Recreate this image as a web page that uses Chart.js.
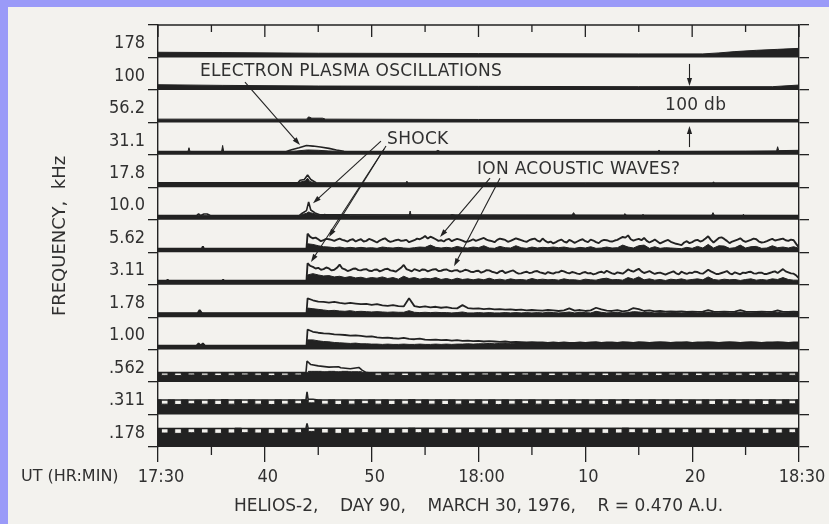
<!DOCTYPE html>
<html>
<head>
<meta charset="utf-8">
<title>Helios-2 wave channels, 30 March 1976</title>
<script src="https://cdn.jsdelivr.net/npm/chart.js@4.4.1/dist/chart.umd.min.js"></script>
<style>
    html, body { margin: 0; padding: 0; background: #9a9af8; }
    #sheet { position: absolute; left: 8px; top: 7px; width: 821px; height: 517px; background: #f3f2ee; }
    canvas { display: block; }
</style>
</head>
<body>
<div id="sheet"><canvas id="wavesChart" width="821" height="517"></canvas></div>
<script>
const INK = '#222222';
const TEXT = '#303030';
const NUM_FONT = "'DejaVu Sans Condensed', 'DejaVu Sans', sans-serif";
const TXT_FONT = "'DejaVu Sans', sans-serif";

// channel centre frequencies, top to bottom (kHz)
const channelLabels = ['178', '100', '56.2', '31.1', '17.8', '10.0', '5.62', '3.11', '1.78', '1.00', '.562', '.311', '.178'];
// UT labels every 10 minutes from 17:30
const timeLabels = ['17:30', '40', '50', '18:00', '10', '20', '18:30'];

// Quiet channels: [minutes after 17:30, dB above channel base]
const avg178 = [[0,16],[6,15],[15,13],[30,12],[45,11],[51,11],[52.5,14],[54,18],[56,22],[58,25],[60,28]];
const avg100 = [[0,16],[6,14],[15,12],[30,11],[45,10],[57.5,10],[58.5,12],[60,15]];
const avg56 = [[0,10],[13.9,10],[14.1,17],[14.4,13],[15.4,13],[15.7,10],[30,9],[60,9]];
const avg31 = [[0,10],[2.8,10],[2.9,22],[3.0,10],[5.95,10],[6.05,29],[6.15,10],[12,10],[13,12],[14,15],[15,14],
    [16,12],[17,11],[18,10],[26,10],[26.2,14],[26.4,10],[46.8,10],[46.9,15],[47,10],[55,11],[57.9,12],[58,25],[58.1,13],[60,14]];
const peak31 = [[0,10],[12,10],[12.5,16],[13.2,22],[13.9,29],[14.5,27],[15.2,24],[16,20],[16.7,15],[17.4,11],[18,10],[60,10]];
const avg17 = [[0,14],[8,13],[13.1,13],[13.4,17],[13.8,20],[14.0,28],[14.2,18],[14.7,13],[23.2,12],[23.3,19],[23.4,12],
    [40,12],[51.9,12],[52,17],[52.1,12],[60,12]];
const peak17 = [[0,14],[13.1,14],[13.3,22],[13.7,24],[14.0,38],[14.3,24],[14.8,14],[60,13]];
const avg10 = [[0,13],[13.2,12],[13.5,16],[13.9,20],[14.1,24],[14.25,22],[14.7,18],[15.2,13],[15.6,17],[16.2,13],[17.6,16],
    [18,12],[23.5,12],[23.6,27],[23.7,12],[27.3,12],[27.5,16],[28,12],[38.7,12],[38.9,22],[39.1,12],[43.6,12],[43.7,19],
    [43.9,12],[45.3,12],[45.4,17],[45.5,12],[51.8,12],[51.95,22],[52.1,12],[54.7,12],[54.8,17],[54.9,12],[60,12]];
const peak10 = [[0,13],[3.6,13],[3.8,18],[4.0,13],[4.3,18],[4.6,18],[4.9,13],[13.2,13],[13.5,20],[13.9,28],[14.1,55],
    [14.3,30],[14.7,21],[15.2,15],[60,13]];

// Disturbed channels: quiet part as pairs, then regular samples from 14.0 to 60.0
// peak5 / peak3 every 0.25 min, all the others every 0.5 min
const pre5 = [[0,11],[4.1,11],[4.2,18],[4.3,11],[13.9,11]];
const peak5 = [57,47,43,45,40,34,37,41,40,38,35,39,42,38,36,33,38,40,33,37,
    40,33,35,41,38,34,30,36,40,43,36,32,34,37,39,35,36,38,31,34,
    37,42,40,44,50,42,48,44,40,35,37,33,39,41,34,38,41,39,36,32,
    33,36,40,35,38,41,44,39,36,34,31,38,42,40,38,32,35,39,43,40,
    37,34,32,37,40,42,36,33,42,35,30,33,27,31,36,39,33,30,38,34,
    29,33,37,40,34,31,39,36,31,28,35,38,37,34,33,36,38,43,47,45,
    52,40,36,39,41,37,44,35,30,34,39,33,27,31,35,38,32,29,26,24,
    22,30,34,28,31,36,38,33,36,42,49,38,30,37,44,46,41,35,28,33,
    36,39,43,36,32,35,38,42,40,33,30,31,34,38,41,36,38,40,42,37,
    35,39,37,25,14];
const avg5 = [26,24,20,17,16,14,16,13,15,13, 15,13,14,12,16,14,13,15,13,12, 14,16,15,22,15,13,15,13,18,14,
    13,16,14,20,13,12,18,14,13,20, 14,12,16,13,15,14,16,14,16,13, 12,15,13,17,12,13,16,13,14,22,
    16,13,20,22,12,17,12,14,13,12, 11,15,12,18,13,24,13,20,19,12, 14,22,13,17,18,12,13,20,14,16, 13,17,12];

const pre3 = [[0,12],[0.8,12],[0.9,16],[1.0,12],[6.0,12],[6.1,15],[6.2,12],[13.9,12]];
const peak3 = [66,58,55,50,52,46,48,53,50,44,46,52,62,50,47,42,45,49,50,45,
    44,47,48,43,42,46,47,41,44,48,49,44,43,40,46,52,61,48,45,41,
    48,45,42,47,46,41,44,47,48,42,43,46,47,43,41,44,45,40,42,46,
    44,40,39,42,43,37,40,45,44,40,38,35,41,43,36,39,42,44,38,34,
    35,38,40,36,37,41,42,38,36,33,39,36,34,38,38,43,41,37,35,39,
    37,34,33,37,39,35,36,32,34,38,40,36,43,39,35,33,38,36,34,40,
    47,43,40,45,49,41,36,39,42,37,33,36,37,34,31,35,38,41,35,32,
    40,36,33,37,36,40,39,35,34,40,46,41,37,33,33,36,39,42,35,32,
    38,35,32,37,36,39,40,35,34,37,37,33,33,36,39,41,36,42,48,41,
    38,35,34,28,20];
const avg3 = [30,34,30,27,28,24,26,22,25,21, 23,19,22,20,24,19,22,17,26,19, 22,17,20,18,22,16,19,15,20,16,
    18,15,18,15,20,15,17,14,18,15, 16,14,19,15,17,15,16,14,18,15, 15,13,17,15,14,18,20,15,16,14,
    22,17,24,15,18,14,16,13,17,15, 18,14,16,18,15,24,16,14,17,15, 16,13,16,18,14,16,14,18,16,22, 16,14,14];

const pre1_78 = [[0,12],[3.7,12],[3.9,22],[4.1,13],[4.3,12],[13.9,12]];
const peak1_78 = [58,52,48,47,45,47,44,42,44,42, 40,41,38,40,36,35,37,34,33,58, 34,31,33,30,32,29,31,28,27,37,
    28,26,27,25,26,24,25,23,24,22, 23,21,22,21,20,22,21,19,21,27, 20,22,19,21,29,24,20,19,22,18,
    20,28,25,19,21,18,19,17,18,17, 18,16,17,16,17,22,17,16,17,16, 17,22,17,16,16,17,16,16,21,16, 16,17,16];
const avg1_78 = [28,26,24,22,20,21,19,18,20,17, 18,17,16,17,16,15,16,15,15,20, 15,14,15,14,15,14,14,13,14,16,
    13,13,14,13,14,13,13,14,13,14, 13,14,13,14,13,15,14,13,14,16, 13,15,14,13,18,15,13,14,15,13,
    14,17,16,14,15,13,14,13,14,14, 13,14,14,13,14,16,14,13,14,13, 14,16,14,13,14,14,13,14,15,13, 14,14,14];

const pre1_00 = [[0,12],[3.6,12],[3.8,19],[4.0,13],[4.2,19],[4.4,12],[13.9,12]];
const peak1_00 = [62,55,52,50,49,47,46,45,43,44, 42,40,41,38,36,37,35,34,36,33, 32,34,31,30,31,29,30,28,29,27,
    28,26,27,25,26,25,24,25,23,24, 23,22,23,22,22,21,22,21,22,21, 21,22,21,22,23,21,22,22,21,23,
    22,21,23,22,21,22,23,22,21,22, 22,23,21,22,22,23,22,21,22,23, 22,21,22,23,22,21,22,22,23,22, 21,22,22];
const avg1_00 = [30,30,27,25,24,22,21,20,19,20, 18,18,17,17,16,17,16,16,17,16, 16,17,16,16,17,16,17,16,17,17,
    18,17,18,18,19,18,19,20,19,20, 20,20,21,20,21,20,21,20,21,20, 20,21,20,21,21,20,21,21,20,21,
    21,20,21,21,20,21,21,21,20,21, 21,21,20,21,21,21,21,20,21,21, 21,20,21,21,21,20,21,21,21,21, 20,21,21];

// Low channels with the spin notches: one value every 0.625 min from 0 to 60
const avgP562 = [29,21,29,20,29,22,29,21,29,20, 29,21,29,22,29,21,29,20,29,21, 29,22,29,33,33,32,33,32,33,32,
    32,30,29,21,29,22,29,20,29,21, 29,22,29,21,29,20,29,21,29,22, 29,21,29,20,29,22,29,21,29,20,
    29,21,29,22,29,21,29,20,29,21, 29,22,29,21,29,20,29,22,29,21, 29,20,29,21,29,22,29,21,29,20, 29,21,29,22,29,21,29];
const peakP562 = [[0,29],[13.85,29],[13.95,65],[14.3,54],[15,50],[16,46],[16.9,47],[17.1,44],[18,41],[18.8,45],
    [19.1,37],[19.5,29],[60,29]];
const avgP311 = [45,32,45,31,45,33,44,32,45,31, 46,32,45,33,45,32,44,31,45,32, 45,33,45,36,45,32,45,31,44,32,
    45,33,45,32,45,31,45,32,46,33, 45,32,45,31,45,32,44,33,45,32, 45,31,45,32,45,33,45,32,44,31,
    45,32,45,33,45,32,45,31,45,32, 46,33,45,32,45,31,45,32,45,33, 44,32,45,31,45,32,45,33,45,32, 45,31,45,32,45,33,45];
const peakP311 = [[0,45],[13.85,45],[13.95,70],[14.05,47],[14.5,47],[15,45],[60,45]];
const avgP178 = [57,43,57,42,57,44,56,43,57,42, 57,43,58,44,57,43,56,42,57,43, 57,44,57,48,57,43,57,42,56,43,
    57,44,57,43,57,42,57,43,58,44, 57,43,57,42,57,43,56,44,57,43, 57,42,57,43,57,44,57,43,56,42,
    57,43,57,44,57,43,57,42,57,43, 58,44,57,43,57,42,57,43,57,44, 56,43,57,42,57,43,57,44,57,43, 57,42,57,43,57,44,57];
const peakP178 = [[0,57],[13.85,57],[13.95,73],[14.05,58],[60,57]];

const ROW = 100; // each channel strip spans 100 dB

function base(i) {
    return (channelLabels.length - 1 - i) * ROW;
}

function fromPairs(pairs, b) {
    return pairs.map(p => ({ x: p[0], y: b + p[1] }));
}

function fromSteps(vals, t0, dt, b) {
    return vals.map((v, i) => ({ x: t0 + i * dt, y: b + v }));
}

const datasets = [];

function addChannel(i, avgPts, peakPts, stepped, peakWidth) {
    const b = base(i);
    datasets.push({
        label: channelLabels[i] + ' kHz average',
        data: avgPts,
        fill: { value: b },
        backgroundColor: INK,
        borderColor: INK,
        borderWidth: 1,
        stepped: stepped || false
    });
    if (peakPts) {
        datasets.push({
            label: channelLabels[i] + ' kHz peak',
            data: peakPts,
            fill: false,
            borderColor: INK,
            borderWidth: peakWidth || 1.6
        });
    }
}

function disturbed(pre, vals, i, step) {
    return fromPairs(pre, base(i)).concat(fromSteps(vals, 14, step, base(i)));
}

addChannel(0, fromPairs(avg178, base(0)));
addChannel(1, fromPairs(avg100, base(1)));
addChannel(2, fromPairs(avg56, base(2)));
addChannel(3, fromPairs(avg31, base(3)), fromPairs(peak31, base(3)));
addChannel(4, fromPairs(avg17, base(4)), fromPairs(peak17, base(4)));
addChannel(5, fromPairs(avg10, base(5)), fromPairs(peak10, base(5)));
addChannel(6, disturbed(pre5, avg5, 6, 0.5), disturbed(pre5, peak5, 6, 0.25), false, 1.9);
addChannel(7, disturbed(pre3, avg3, 7, 0.5), disturbed(pre3, peak3, 7, 0.25), false, 1.9);
addChannel(8, disturbed(pre1_78, avg1_78, 8, 0.5), disturbed(pre1_78, peak1_78, 8, 0.5), false, 1.8);
addChannel(9, disturbed(pre1_00, avg1_00, 9, 0.5), disturbed(pre1_00, peak1_00, 9, 0.5), false, 1.8);
addChannel(10, fromSteps(avgP562, 0, 0.625, base(10)), fromPairs(peakP562, base(10)), 'middle');
addChannel(11, fromSteps(avgP311, 0, 0.625, base(11)), fromPairs(peakP311, base(11)), 'middle');
addChannel(12, fromSteps(avgP178, 0, 0.625, base(12)), fromPairs(peakP178, base(12)), 'middle');

// hand lettering on the original plot, placed in data units (minutes, stacked dB)
const notes = [
    { text: 'ELECTRON PLASMA OSCILLATIONS', t: 3.93, v: 1157 },
    { text: 'SHOCK', t: 21.44, v: 948 },
    { text: 'ION ACOUSTIC WAVES?', t: 29.86, v: 855 },
    { text: '100 db', t: 47.46, v: 1052 }
];
const arrows = [
    [8.14, 1124, 13.29, 930],
    [20.87, 942, 14.51, 751],
    [21.34, 927, 16.01, 647],
    [21.16, 918, 14.32, 570],
    [31.08, 828, 26.40, 647],
    [32.01, 828, 27.71, 557],
    [49.75, 1180, 49.75, 1112],
    [49.75, 924, 49.75, 989]
];

const sheetMarks = {
    id: 'sheetMarks',
    afterDraw(chart) {
        const ctx = chart.ctx;
        const a = chart.chartArea;
        const xs = chart.scales.x;
        const ys = chart.scales.y;
        ctx.save();
        ctx.strokeStyle = INK;
        ctx.fillStyle = INK;
        ctx.lineWidth = 1.3;

        // top frame with inward ticks, short outward ticks at the bottom
        ctx.beginPath();
        ctx.moveTo(a.left, a.top);
        ctx.lineTo(a.right, a.top);
        xs.ticks.forEach(tk => {
            const major = tk.value % 10 === 0;
            const p = xs.getPixelForValue(tk.value);
            ctx.moveTo(p, a.top);
            ctx.lineTo(p, a.top + (major ? 12 : 7));
            if (!major) {
                ctx.moveTo(p, a.bottom);
                ctx.lineTo(p, a.bottom + 8);
            }
        });
        ctx.stroke();

        // pointer arrows
        ctx.lineWidth = 1.1;
        arrows.forEach(ar => {
            const x0 = xs.getPixelForValue(ar[0]), y0 = ys.getPixelForValue(ar[1]);
            const x1 = xs.getPixelForValue(ar[2]), y1 = ys.getPixelForValue(ar[3]);
            const ang = Math.atan2(y1 - y0, x1 - x0);
            ctx.beginPath();
            ctx.moveTo(x0, y0);
            ctx.lineTo(x1 - 5 * Math.cos(ang), y1 - 5 * Math.sin(ang));
            ctx.stroke();
            ctx.beginPath();
            ctx.moveTo(x1, y1);
            ctx.lineTo(x1 - 8 * Math.cos(ang) + 2.6 * Math.sin(ang), y1 - 8 * Math.sin(ang) - 2.6 * Math.cos(ang));
            ctx.lineTo(x1 - 8 * Math.cos(ang) - 2.6 * Math.sin(ang), y1 - 8 * Math.sin(ang) + 2.6 * Math.cos(ang));
            ctx.closePath();
            ctx.fill();
        });

        // lettering
        ctx.fillStyle = TEXT;
        ctx.font = '17px ' + TXT_FONT;
        ctx.letterSpacing = '0.3px';
        ctx.textBaseline = 'middle';
        ctx.textAlign = 'left';
        notes.forEach(n => {
            ctx.fillText(n.text, xs.getPixelForValue(n.t), ys.getPixelForValue(n.v));
        });

        // axis caption left of the time labels
        ctx.font = '16px ' + TXT_FONT;
        ctx.letterSpacing = '0px';
        ctx.fillText('UT (HR:MIN)', 13, a.bottom + 30);
        ctx.restore();
    }
};

new Chart(document.getElementById('wavesChart'), {
    type: 'line',
    data: { datasets: datasets },
    options: {
        responsive: false,
        animation: false,
        devicePixelRatio: 1,
        events: [],
        layout: { padding: { top: 18, left: 0, right: 0, bottom: 0 } },
        elements: {
            point: { radius: 0 },
            line: { tension: 0, borderJoinStyle: 'bevel', borderCapStyle: 'butt' }
        },
        plugins: {
            legend: { display: false },
            tooltip: { enabled: false },
            title: { display: false }
        },
        scales: {
            x: {
                type: 'linear',
                position: 'bottom',
                min: 0,
                max: 60,
                afterFit(s) { s.height = 77; },
                ticks: {
                    stepSize: 5,
                    autoSkip: false,
                    maxRotation: 0,
                    padding: 5,
                    labelOffset: 3,
                    color: TEXT,
                    font: { family: NUM_FONT, size: 18 },
                    callback: v => (v % 10 === 0 ? timeLabels[v / 10] : '')
                },
                grid: {
                    drawOnChartArea: false,
                    tickLength: 15,
                    lineWidth: 1.3,
                    color: c => (c.tick && c.tick.value % 10 === 0 ? INK : 'rgba(0,0,0,0)')
                },
                border: { display: false },
                title: {
                    display: true,
                    text: 'HELIOS-2,    DAY 90,    MARCH 30, 1976,    R = 0.470 A.U.',
                    color: TEXT,
                    font: { family: TXT_FONT, size: 17 },
                    padding: { top: 0, bottom: 7 }
                }
            },
            y: {
                type: 'linear',
                position: 'left',
                min: 0,
                max: 1300,
                afterFit(s) { s.width = 150; },
                ticks: {
                    stepSize: 100,
                    autoSkip: false,
                    padding: 3,
                    labelOffset: -14,
                    color: TEXT,
                    font: { family: NUM_FONT, size: 18 },
                    callback: v => (v < 1300 ? channelLabels[12 - Math.round(v / 100)] : '')
                },
                grid: { drawOnChartArea: false, tickLength: 10, color: INK, lineWidth: 1.3 },
                border: { display: true, color: INK, width: 1.4 },
                title: {
                    display: true,
                    text: 'FREQUENCY,  kHz',
                    color: TEXT,
                    font: { family: TXT_FONT, size: 18 },
                    padding: { top: 42, bottom: 0 }
                }
            },
            y2: {
                type: 'linear',
                position: 'right',
                min: 0,
                max: 1300,
                afterFit(s) { s.width = 30; },
                ticks: { display: false, stepSize: 100 },
                grid: { drawOnChartArea: false, tickLength: 10, color: INK, lineWidth: 1.3 },
                border: { display: true, color: INK, width: 1.4 }
            }
        }
    },
    plugins: [sheetMarks]
});
</script>
</body>
</html>
